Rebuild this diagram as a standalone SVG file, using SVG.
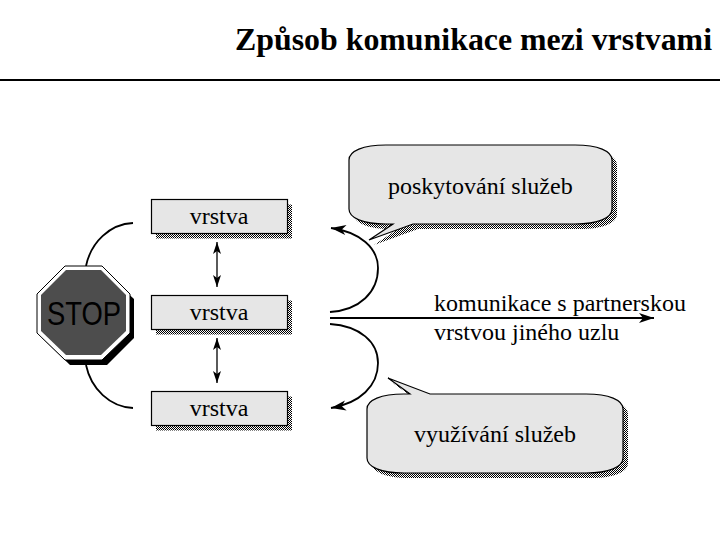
<svg xmlns="http://www.w3.org/2000/svg" width="720" height="540" viewBox="0 0 720 540">
<style>
text{font-family:"Liberation Serif","Times New Roman",serif;fill:#000}
.t{font-size:24px}
.m{text-anchor:middle}
.box{fill:#e6e6e6;stroke:#000;stroke-width:1.2}
.sh{fill:url(#chk)}
.ln{fill:none;stroke:#000;stroke-width:1.8}
.ar{marker-end:url(#head)}
.v{stroke-width:1.3;marker-start:url(#vS);marker-end:url(#vE)}
</style>
<defs>
<pattern id="chk" width="2" height="2" patternUnits="userSpaceOnUse"><rect width="2" height="2" fill="#fff"/><rect width="1" height="1" fill="#000"/><rect x="1" y="1" width="1" height="1" fill="#000"/></pattern>
<marker id="head" markerUnits="userSpaceOnUse" markerWidth="18" markerHeight="14" refX="16" refY="7" orient="auto"><path d="M16 7L1 2L5 7L1 12Z" fill="#000"/></marker>
<marker id="vE" markerUnits="userSpaceOnUse" markerWidth="14" markerHeight="10" refX="13" refY="5" orient="auto"><path d="M13 5L1 1L4 5L1 9Z" fill="#000"/></marker>
<marker id="vS" markerUnits="userSpaceOnUse" markerWidth="14" markerHeight="10" refX="1" refY="5" orient="auto"><path d="M1 5L13 1L10 5L13 9Z" fill="#000"/></marker>
<path id="b1" d="M386 145H575C598 145 612 151 612 160V209C612 218 598 224 575 224H413L369 240L393 224H386C363 224 349 218 349 209V160C349 151 363 145 386 145Z"/>
<path id="b2" d="M404 394H410L388 378L430 394H586C609 394 623 400 623 409V458C623 467 609 473 586 473H404C381 473 367 467 367 458V409C367 400 381 394 404 394Z"/>
</defs>
<g id="title"><text x="235" y="50" font-size="32" font-weight="bold" textLength="477" lengthAdjust="spacingAndGlyphs">Způsob komunikace mezi vrstvami</text><rect x="0" y="79" width="720" height="2" fill="#000"/></g>
<g id="connectors">
<path class="ln" d="M133 223C110 224 91 242 86 266"/>
<path class="ln" d="M86 365C91 389 110 407 133 408"/>
<path class="ln v" d="M217 242V287"/>
<path class="ln v" d="M217 338V383"/>
<path class="ln ar" d="M330 312C360 310 378 292 378 268C378 248 360 232 331 228"/>
<path class="ln ar" d="M330 324C360 326 378 342 378 363C378 386 360 403 331 408"/>
<path class="ln ar" d="M330 318H654"/>
</g>
<g id="stop">
<path d="M70 274H107L134 299V338L107 365H70L42 338V299Z" fill="#000"/>
<path d="M65 266H102L130 294V333L102 360H65L37 333V294Z" fill="#fff" stroke="#000" stroke-width="1"/>
<path d="M66 270H101L126 295V331L101 355H66L41 331V295Z" fill="#4d4d4d"/>
<text x="47" y="325" font-size="34" style="font-family:'Liberation Sans',Arial,sans-serif" textLength="74" lengthAdjust="spacingAndGlyphs">STOP</text>
</g>
<g id="vrstva1"><rect class="sh" x="156" y="204.500" width="136" height="34"/><rect class="box" x="151.500" y="199.500" width="136" height="34"/><text class="t m" x="219" y="224">vrstva</text></g>
<g id="vrstva2"><rect class="sh" x="156" y="300.500" width="136" height="34"/><rect class="box" x="151.500" y="295.500" width="136" height="34"/><text class="t m" x="219" y="320">vrstva</text></g>
<g id="vrstva3"><rect class="sh" x="156" y="396.500" width="136" height="34"/><rect class="box" x="151.500" y="391.500" width="136" height="34"/><text class="t m" x="219" y="416">vrstva</text></g>
<g id="bubble1"><use href="#b1" class="sh" x="5" y="5"/><use href="#b1" class="box"/><text class="t" x="388" y="194">poskytování služeb</text></g>
<g id="bubble2"><use href="#b2" class="sh" x="5" y="5"/><use href="#b2" class="box"/><text class="t" x="414" y="442">využívání služeb</text></g>
<g id="label"><text class="t" x="434" y="311">komunikace s partnerskou</text><text class="t" x="434" y="340">vrstvou jiného uzlu</text></g>
</svg>
